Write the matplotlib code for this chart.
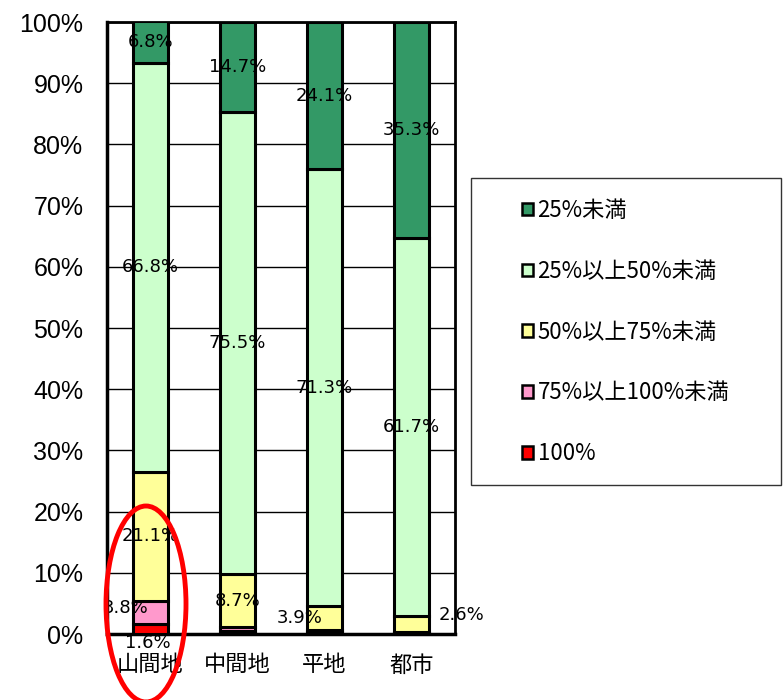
import matplotlib
matplotlib.use('Agg')
import matplotlib.pyplot as plt
from matplotlib.patches import Ellipse, Rectangle
import numpy as np

categories = ['山間地', '中間地', '平地', '都市']
series_names = ['100%', '75%以上100%未満', '50%以上75%未満', '25%以上50%未満', '25%未満']
series_colors = ['#FF0000', '#FF99CC', '#FFFF99', '#CCFFCC', '#339966']

# values per series (bottom to top), one entry per category
v_100 = [1.6, 0.5, 0.3, 0.2]
v_75_100 = [3.8, 0.6, 0.4, 0.2]
v_50_75 = [21.1, 8.7, 3.9, 2.6]
v_25_50 = [66.8, 75.5, 71.3, 61.7]
v_lt25 = [6.8, 14.7, 24.1, 35.3]
series_values = [v_100, v_75_100, v_50_75, v_25_50, v_lt25]

# label offsets (pixels) for the small segments whose labels sit outside
label_offsets = {(0, 0): (-3, -14), (0, 1): (-25, 5), (2, 2): (-25, 0), (3, 2): (50, 9)}

fig = plt.figure(figsize=(7.84, 7.0), dpi=100)
ax = fig.add_axes([107 / 784, 1 - 634 / 700, 348 / 784, 612 / 700])

x = np.arange(len(categories))
bottom = np.zeros(len(categories))
handles = []
for si, (name, vals, col) in enumerate(zip(series_names, series_values, series_colors)):
    vals = np.array(vals)
    b = ax.bar(x, vals, bottom=bottom, width=0.4, color=col, edgecolor='black',
               linewidth=2.2, label=name, zorder=3)
    handles.append(b)
    for ci in range(len(categories)):
        v = vals[ci]
        if v < 1.0:
            continue
        off = label_offsets.get((ci, si), (0, 0))
        ax.annotate(f'{v:.1f}%', (x[ci], bottom[ci] + v / 2), xytext=off,
                    textcoords='offset pixels', ha='center', va='center',
                    fontsize=13, family=['Liberation Sans Narrow', 'DejaVu Sans'],
                    zorder=5, annotation_clip=False)
    bottom += vals

ax.set_xlim(-0.5, len(categories) - 0.5)
ax.set_ylim(0, 100)
ax.set_yticks(np.arange(0, 101, 10))
ax.set_yticklabels([f'{t}%' for t in range(0, 101, 10)], fontsize=18,
                   family=['Liberation Sans', 'DejaVu Sans'])
ax.set_xticks(x)
ax.set_xticklabels(categories, fontsize=16, family=['Noto Sans CJK JP', 'DejaVu Sans'])
ax.tick_params(axis='y', length=0, pad=17)
ax.tick_params(axis='x', length=0, pad=14)
ax.yaxis.grid(True, color='black', linewidth=1.0, zorder=0)
ax.set_axisbelow(True)
for side in ['left', 'bottom']:
    ax.spines[side].set_linewidth(2.5)
for side in ['top', 'right']:
    ax.spines[side].set_linewidth(2.0)

# legend frame and entries
fig.patches.append(Rectangle((471 / 784, 1 - 485 / 700), 310 / 784, 307 / 700,
                             transform=fig.transFigure, fill=False,
                             edgecolor='#333333', linewidth=1.0))
leg = fig.legend(handles[::-1], series_names[::-1], loc='upper left',
                 bbox_to_anchor=(502 / 784, 1 - 179 / 700), frameon=False,
                 prop={'family': ['Noto Sans CJK JP', 'DejaVu Sans'], 'size': 16},
                 handlelength=0.5, handleheight=0.5, handletextpad=0.2,
                 labelspacing=1.7)
for h in leg.legend_handles:
    h.set_linewidth(1.8)

# red ellipse highlight
fig.patches.append(Ellipse((146 / 784, 1 - 604 / 700), 80 / 784, 196 / 700,
                           transform=fig.transFigure, fill=False,
                           edgecolor='#FF0000', linewidth=3.5))

fig.savefig('out.png', dpi=100)
